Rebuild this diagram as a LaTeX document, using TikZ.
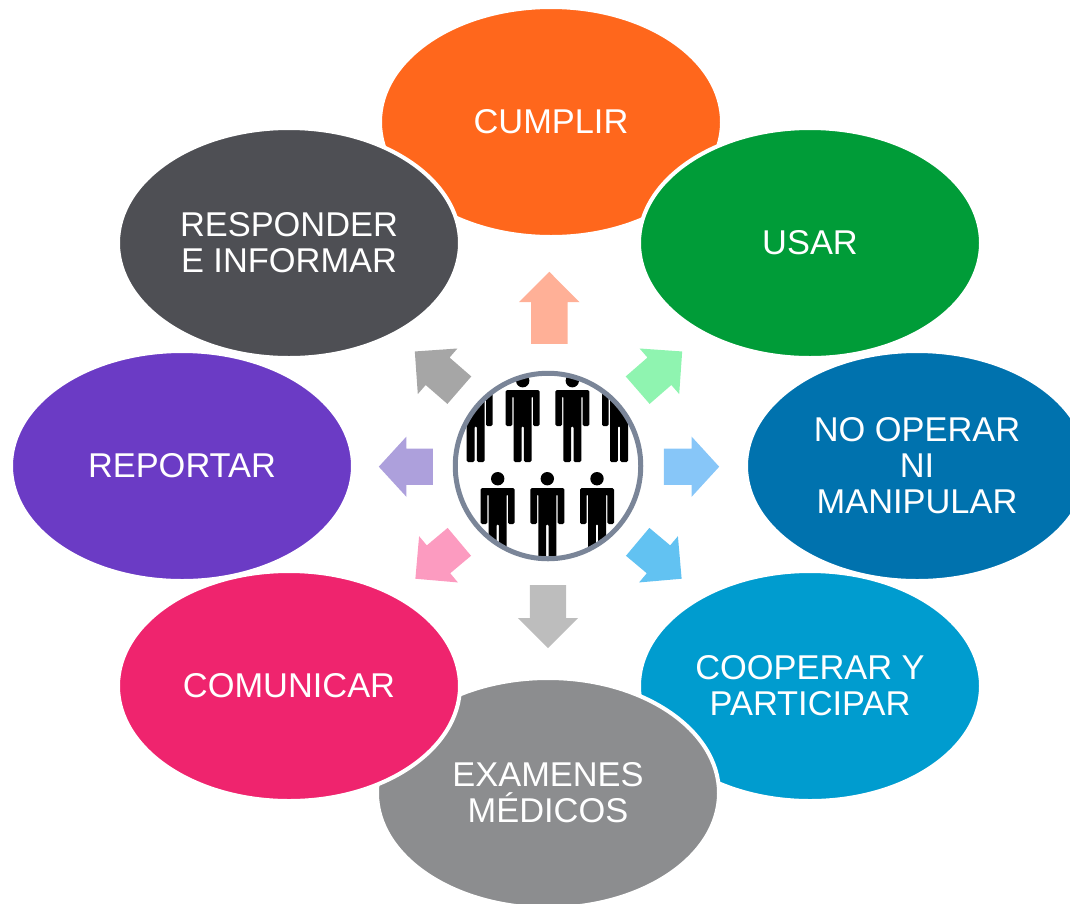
\documentclass[tikz,border=0pt]{standalone}
\usepackage{fontspec}
\setmainfont{Liberation Sans}
\usetikzlibrary{shapes.geometric, shapes.arrows}
\definecolor{ringgray}{HTML}{7A8598}
\tikzstyle{Oval}=[ellipse, draw=white, line width=4pt, minimum width=342pt, minimum height=230pt, inner sep=0pt, align=center, text=white, font=\fontsize{34.4}{36}\selectfont]
\tikzstyle{Arrow}=[single arrow, anchor=tail, draw=none, inner sep=0pt, text height=36pt, text depth=0pt, text width=0pt, single arrow head extend=12pt]
\tikzset{person/.pic={
	\fill[black] (0,-9.3) circle (6.7);
	\fill[black, rounded corners=1.5pt] (-17,0) -- (17,0) -- (17,36) -- (10.3,36) -- (10.3,6) -- (9,6) -- (9,72) -- (1.2,72) -- (1.2,36) -- (-1.2,36) -- (-1.2,72) -- (-9,72) -- (-9,6) -- (-10.3,6) -- (-10.3,36) -- (-17,36) -- cycle;
}}

\begin{document}
\begin{tikzpicture}[x=1pt, y=-1pt]
			\path[use as bounding box, clip] (0, 0) rectangle (1070, 903);
			\node[Oval, fill={rgb,255:red,255;green,103;blue,28}] (cumplir) at (551, 122) {CUMPLIR};
			\node[Oval, fill={rgb,255:red,0;green,156;blue,56}] (usar) at (810, 243) {USAR};
			\node[Oval, fill={rgb,255:red,0;green,114;blue,174}] (operar) at (917, 466) {NO OPERAR\\NI\\MANIPULAR};
			\node[Oval, fill={rgb,255:red,0;green,156;blue,207}] (cooperar) at (810, 686) {COOPERAR Y\\PARTICIPAR};
			\node[Oval, fill={rgb,255:red,140;green,141;blue,143}] (examenes) at (548, 793) {EXAMENES\\MÉDICOS};
			\node[Oval, fill={rgb,255:red,239;green,36;blue,110}] (comunicar) at (289, 686) {COMUNICAR};
			\node[Oval, fill={rgb,255:red,107;green,59;blue,197}] (reportar) at (182, 466) {REPORTAR};
			\node[Oval, fill={rgb,255:red,78;green,79;blue,84}] (responder) at (289, 243) {RESPONDER\\E INFORMAR};

			\node[Arrow, fill={rgb,255:red,255;green,176;blue,151}, minimum height=72pt, rotate=90] (a1) at (549.3, 344) {};
			\node[Arrow, fill={rgb,255:red,143;green,244;blue,176}, minimum height=59pt, rotate=41] (a2) at (637.5, 390.3) {};
			\node[Arrow, fill={rgb,255:red,135;green,198;blue,248}, minimum height=55.3pt, single arrow tip angle=95] (a3) at (663.7, 466.7) {};
			\node[Arrow, fill={rgb,255:red,98;green,194;blue,242}, minimum height=57.4pt, rotate=-40] (a4) at (637.5, 541.7) {};
			\node[Arrow, fill={rgb,255:red,189;green,189;blue,189}, minimum height=63pt, rotate=-90] (a5) at (548, 585) {};
			\node[Arrow, fill={rgb,255:red,252;green,155;blue,192}, minimum height=57.4pt, rotate=220] (a6) at (459.5, 541.7) {};
			\node[Arrow, fill={rgb,255:red,173;green,160;blue,220}, minimum height=54pt, single arrow tip angle=95, rotate=180] (a7) at (433, 466.7) {};
			\node[Arrow, fill={rgb,255:red,166;green,166;blue,166}, minimum height=59pt, rotate=139] (a8) at (459.5, 390.3) {};

			\begin{scope}
				\clip (548, 466) circle (92);
				\foreach \px in {475.7, 522.7, 572.3, 619}
					\pic at (\px, 390) {person};
				\foreach \px in {497.7, 547.3, 597}
					\pic at (\px, 488) {person};
			\end{scope}
			\node[circle, draw=ringgray, line width=5pt, minimum size=185.5pt, inner sep=0pt] (grupo) at (548, 466) {};
		\end{tikzpicture}
\end{document}
